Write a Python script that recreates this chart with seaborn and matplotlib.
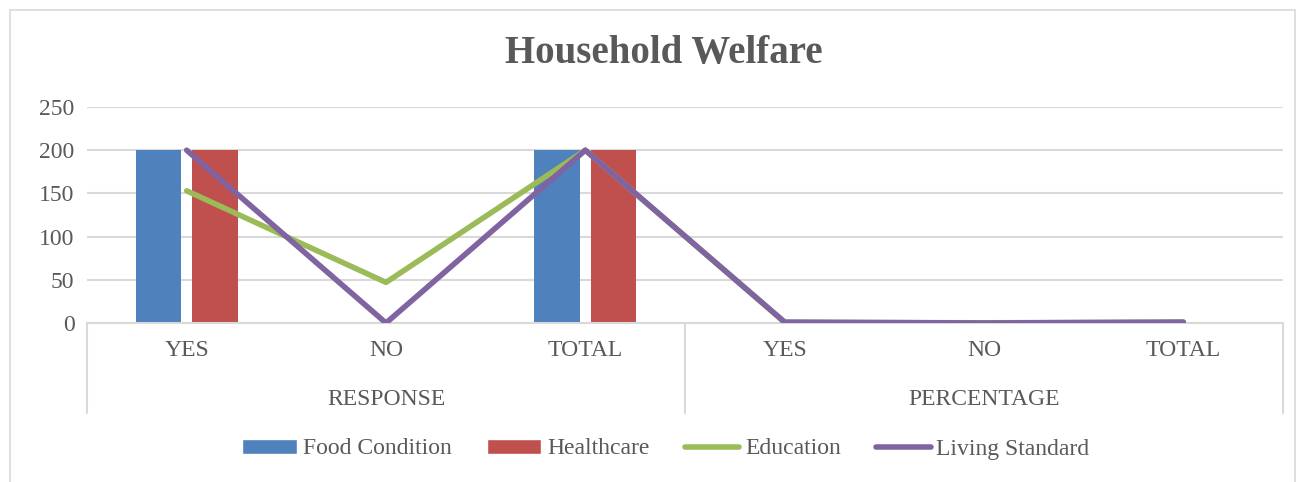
import numpy as np
import pandas as pd
import matplotlib
matplotlib.use("Agg")
import matplotlib.pyplot as plt
from matplotlib.patches import Patch, Rectangle
from matplotlib.lines import Line2D
import seaborn as sns

# chart data
categories = ["YES", "NO", "TOTAL", "YES", "NO", "TOTAL"]
groups = ["RESPONSE", "PERCENTAGE"]
group_sizes = [3, 3]
food_condition = [200, 0, 200, 1, 0, 1]
healthcare = [200, 0, 200, 1, 0, 1]
education = [153, 47, 200, 0.765, 0.235, 1]
living_standard = [200, 0, 200, 1, 0, 1]
yticks = [0, 50, 100, 150, 200, 250]

colors = {"Food Condition": "#4F81BD", "Healthcare": "#C0504D",
          "Education": "#9BBB59", "Living Standard": "#8064A2"}
text_color = "#595959"
grid_color = "#D9D9D9"

slot = np.arange(len(categories))
bars = pd.DataFrame({
    "slot": np.concatenate([slot, slot]),
    "value": food_condition + healthcare,
    "series": ["Food Condition"] * len(slot) + ["Healthcare"] * len(slot),
})
lines = pd.DataFrame({
    "slot": np.concatenate([slot, slot]),
    "value": education + living_standard,
    "series": ["Education"] * len(slot) + ["Living Standard"] * len(slot),
})

sns.set_style("white")
plt.rcParams["font.family"] = ["Liberation Serif", "DejaVu Serif"]

fig = plt.figure(figsize=(13, 4.82), dpi=100)
ax = fig.add_axes([87 / 1300, 159 / 482, 1196 / 1300, 216 / 482])

sns.barplot(data=bars, x="slot", y="value", hue="series", palette=colors,
            width=0.57, gap=0.2, ax=ax, legend=False, saturation=1, linewidth=0)
sns.lineplot(data=lines, x="slot", y="value", hue="series", palette=colors,
             linewidth=4, ax=ax, legend=False, sort=False,
             solid_capstyle="round", zorder=5)

ax.set_xlim(-0.5, len(categories) - 0.5)
ax.set_ylim(0, 250)
ax.set_yticks(yticks)
ax.set_yticklabels([str(t) for t in yticks], fontsize=17, color=text_color)
ax.set_xticks(slot)
ax.set_xticklabels(categories, fontsize=17, color=text_color)
ax.tick_params(axis="both", length=0)
ax.tick_params(axis="x", pad=12)
ax.tick_params(axis="y", pad=9)
ax.set_xlabel("")
ax.set_ylabel("")
ax.yaxis.grid(True, color=grid_color, linewidth=1.5)
ax.set_axisbelow(True)
for s in ["left", "right", "top"]:
    ax.spines[s].set_visible(False)
ax.spines["bottom"].set_color(grid_color)
ax.spines["bottom"].set_linewidth(1.5)

# multi-level category axis
tr = ax.get_xaxis_transform()
edges = np.concatenate([[0], np.cumsum(group_sizes)]) - 0.5
for e in edges:
    ax.plot([e, e], [0, -0.417], transform=tr, color=grid_color,
            linewidth=1.5, clip_on=False)
for g, a, b in zip(groups, edges[:-1], edges[1:]):
    ax.text((a + b) / 2, -0.352, g, transform=tr, ha="center", va="center",
            fontsize=17, color=text_color)

fig.text(664 / 1300, 1 - 53 / 482, "Household Welfare", ha="center", va="center",
         fontsize=28, fontweight="bold", color=text_color)

handles = [
    Patch(facecolor=colors["Food Condition"]),
    Patch(facecolor=colors["Healthcare"]),
    Line2D([], [], color=colors["Education"], linewidth=4, solid_capstyle="round"),
    Line2D([], [], color=colors["Living Standard"], linewidth=4, solid_capstyle="round"),
]
fig.legend(handles, list(colors.keys()), loc="center", bbox_to_anchor=(666 / 1300, 1 - 449 / 482),
           ncol=4, frameon=False, fontsize=17, handlelength=2.3, handleheight=0.6,
           handletextpad=0.25, columnspacing=1.5, labelcolor=text_color)

fig.patches.append(Rectangle((10 / 1300, -0.01), 1285 / 1300, 1 - 10 / 482 + 0.01,
                             transform=fig.transFigure, fill=False,
                             edgecolor=grid_color, linewidth=1.2))

fig.savefig("out.png", dpi=100)
